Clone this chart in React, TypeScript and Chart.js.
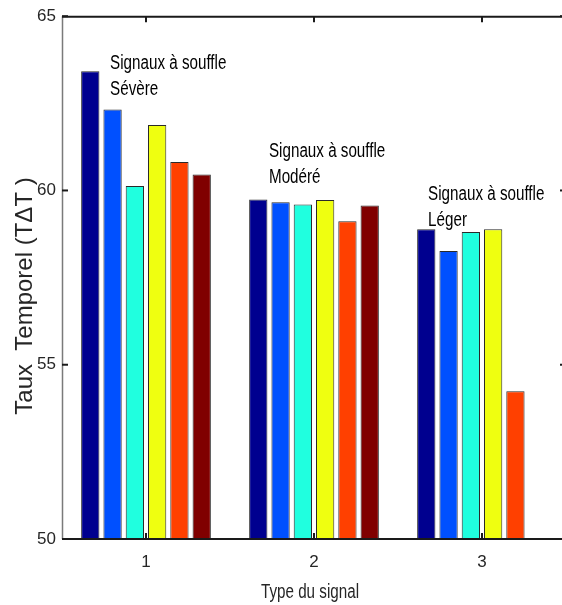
import React, { useEffect, useRef } from "react";
import { Chart, registerables } from "chart.js";

Chart.register(...registerables);

// ---- data ----
const categories = ["1", "2", "3"];
const seriesA = [63.42, 59.74, 58.89];
const seriesB = [62.32, 59.66, 58.26];
const seriesC = [60.13, 59.6, 58.81];
const seriesD = [61.88, 59.73, 58.89];
const seriesE = [60.82, 59.12, 54.24];
const seriesF = [60.46, 59.57, 50];
const seriesColors = ["#00008F", "#0050FF", "#20FFDF", "#EFFF10", "#FF4000", "#800000"];
const yTickValues = [50, 55, 60, 65];
const annotationLines = [
  ["Signaux à souffle", "Sévère"],
  ["Signaux à souffle", "Modéré"],
  ["Signaux à souffle", "Léger"],
];
const annotationX = [0.786, 1.732, 2.679];
const annotationY = [63.48, 60.96, 59.72];
const xTitle = "Type du signal";
const yTitle = "Taux  Temporel (TΔT )";

const REGULAR = "'Liberation Sans', Arial, sans-serif";
const SQUEEZE = 0.76;

const framePlugin = {
  id: "frame",
  afterDraw(chart: any) {
    const { ctx, chartArea: a, scales } = chart;
    const xs = scales.x;
    const ys = scales.y;
    const seg = (x1: number, y1: number, x2: number, y2: number) => {
      ctx.beginPath();
      ctx.moveTo(x1, y1);
      ctx.lineTo(x2, y2);
      ctx.stroke();
    };
    const narrowText = (t: string, x: number, y: number) => {
      ctx.save();
      ctx.translate(x, y);
      ctx.scale(SQUEEZE, 1);
      ctx.fillText(t, 0, 0);
      ctx.restore();
    };
    ctx.save();
    // axes box
    ctx.strokeStyle = "#7a7a7a";
    ctx.lineWidth = 1.5;
    seg(a.left + 0.5, a.top, a.left + 0.5, a.bottom);
    ctx.strokeStyle = "#1a1a1a";
    ctx.lineWidth = 2;
    seg(a.left, a.top + 0.5, a.right, a.top + 0.5);
    seg(a.left, a.bottom, a.right, a.bottom);
    seg(a.right, a.top, a.right, a.bottom);
    // inward ticks
    const tl = 6;
    yTickValues.forEach((v) => {
      const py = ys.getPixelForValue(v);
      seg(a.left, py, a.left + tl, py);
      seg(a.right - tl, py, a.right, py);
    });
    categories.forEach((_, i) => {
      const px = xs.getPixelForValue(i);
      seg(px, a.top, px, a.top + tl);
      seg(px, a.bottom, px, a.bottom - tl);
    });
    // annotations
    ctx.fillStyle = "#000";
    ctx.font = `20px ${REGULAR}`;
    ctx.textAlign = "left";
    ctx.textBaseline = "alphabetic";
    annotationLines.forEach((lines, i) => {
      const px = xs.getPixelForValue(annotationX[i] - 1);
      const py = ys.getPixelForValue(annotationY[i]);
      lines.forEach((t, j) => narrowText(t, px, py + j * 26));
    });
    // axis titles
    ctx.fillStyle = "#262626";
    ctx.font = `20px ${REGULAR}`;
    ctx.textAlign = "center";
    narrowText(xTitle, (a.left + a.right) / 2 - 4, 598);
    ctx.save();
    ctx.translate(25, 296);
    ctx.rotate(-Math.PI / 2);
    ctx.font = `24px ${REGULAR}`;
    ctx.textBaseline = "middle";
    ctx.fillText(yTitle, 0, 0);
    ctx.restore();
    ctx.restore();
  },
};

export default function App() {
  const ref = useRef<HTMLCanvasElement | null>(null);
  useEffect(() => {
    if (!ref.current) return;
    const all = [seriesA, seriesB, seriesC, seriesD, seriesE, seriesF];
    const chart = new Chart(ref.current, {
      type: "bar",
      data: {
        labels: categories,
        datasets: all.map((d, i) => ({
          label: `S${i + 1}`,
          data: d,
          backgroundColor: seriesColors[i],
          borderColor: "#2a2a2a",
          borderWidth: 1,
          categoryPercentage: 0.796,
          barPercentage: 0.82,
        })),
      },
      options: {
        responsive: false,
        animation: false,
        layout: { padding: { top: 16, right: 4, left: 0, bottom: 0 } },
        plugins: { legend: { display: false }, tooltip: { enabled: false }, title: { display: false } },
        scales: {
          x: {
            type: "category",
            grid: { display: false, drawTicks: false },
            border: { display: false },
            ticks: { color: "#262626", font: { family: REGULAR, size: 17 }, padding: 13 },
            afterFit: (s: any) => {
              s.height = 66;
            },
          },
          y: {
            min: 50,
            max: 65,
            grid: { display: false, drawTicks: false },
            border: { display: false },
            ticks: { stepSize: 5, color: "#262626", font: { family: REGULAR, size: 17 }, padding: 6 },
            afterFit: (s: any) => {
              s.width = 62;
            },
          },
        },
      },
      plugins: [framePlugin],
    });
    return () => chart.destroy();
  }, []);
  return (
    <div style={{ position: "absolute", left: 0, top: 0, width: 562, height: 605, overflow: "hidden", background: "#fff" }}>
      <canvas ref={ref} width={570} height={605} style={{ width: 570, height: 605, display: "block" }} />
    </div>
  );
}
